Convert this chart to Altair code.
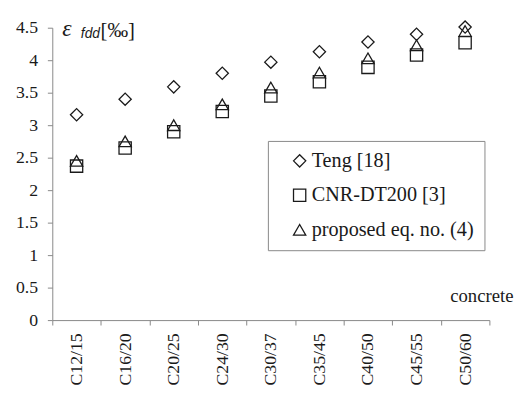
import altair as alt
import pandas as pd

categories = ["C12/15", "C16/20", "C20/25", "C24/30", "C30/37", "C35/45", "C40/50", "C45/55", "C50/60"]
series = ["Teng [18]", "CNR-DT200 [3]", "proposed eq. no. (4)"]
teng = [3.16, 3.40, 3.59, 3.80, 3.97, 4.13, 4.28, 4.40, 4.51]
cnr = [2.37, 2.65, 2.90, 3.21, 3.45, 3.67, 3.89, 4.08, 4.27]
proposed = [2.45, 2.75, 3.00, 3.32, 3.58, 3.81, 4.03, 4.23, 4.45]
y_ticks = [0, 0.5, 1, 1.5, 2, 2.5, 3, 3.5, 4, 4.5]

rows = []
for name, vals in zip(series, [teng, cnr, proposed]):
    for c, v in zip(categories, vals):
        rows.append({"concrete": c, "series": name, "value": v})
df = pd.DataFrame(rows)

FONT = "Liberation Serif"
AX = "#888888"
TXT = "#1a1a1a"

points = alt.Chart(df).mark_point(
    filled=False, size=155, strokeWidth=1.3, color=TXT, opacity=1
).encode(
    x=alt.X(
        "concrete:N", sort=categories,
        scale=alt.Scale(type="band", paddingInner=0, paddingOuter=0),
        axis=alt.Axis(
            title="concrete", titleAnchor="end", titleAlign="right", titleX=468, titleY=-25,
            titleBaseline="middle", titleFont=FONT, titleFontSize=19, titleFontWeight="normal",
            titleColor=TXT,
            labelAngle=-90, labelAlign="right", labelBaseline="middle", labelPadding=8,
            tickBand="extent", tickSize=5, labelFont=FONT, labelFontSize=18,
            domainColor=AX, tickColor=AX, labelColor=TXT, grid=False,
        ),
    ),
    y=alt.Y(
        "value:Q",
        scale=alt.Scale(domain=[0, 4.5], nice=False, zero=True),
        axis=alt.Axis(
            values=y_ticks, title=None, grid=False, format="~", tickSize=5,
            labelPadding=10, labelFont=FONT, labelFontSize=18, labelColor=TXT,
            domainColor=AX, tickColor=AX,
        ),
    ),
    shape=alt.Shape(
        "series:N", sort=series,
        scale=alt.Scale(domain=series, range=["diamond", "square", "triangle-up"]),
        legend=alt.Legend(
            title=None, orient="none", legendX=219, legendY=115,
            fillColor="white", strokeColor=AX, padding=10, symbolOffset=12,
            symbolStrokeColor=TXT, symbolFillColor="transparent", symbolSize=155,
            symbolStrokeWidth=1.3, labelFont=FONT, labelFontSize=20.5, labelColor=TXT,
            rowPadding=14, labelOffset=2, labelLimit=400,
        ),
    ),
)

eps = alt.Chart(pd.DataFrame({"t": ["ε"]})).mark_text(
    font=FONT, fontSize=24, fontStyle="italic", align="left", baseline="alphabetic", color=TXT
).encode(text="t:N", x=alt.value(10), y=alt.value(8))

sub = alt.Chart(pd.DataFrame({"t": ["fdd"]})).mark_text(
    font="Liberation Sans", fontSize=14, fontStyle="italic", align="left", baseline="alphabetic", color=TXT
).encode(text="t:N", x=alt.value(29), y=alt.value(10))

unit = alt.Chart(pd.DataFrame({"t": ["[‰]"]})).mark_text(
    font=FONT, fontSize=21, align="left", baseline="alphabetic", color=TXT
).encode(text="t:N", x=alt.value(49), y=alt.value(9))

chart = alt.layer(points, eps, sub, unit).properties(
    width=444, height=297,
    padding={"left": 45, "top": 17, "right": 25, "bottom": 70},
    autosize=alt.AutoSizeParams(type="none"),
).configure_view(stroke=None)

chart.save("out.html", embed_options={"renderer": "svg", "actions": False})
